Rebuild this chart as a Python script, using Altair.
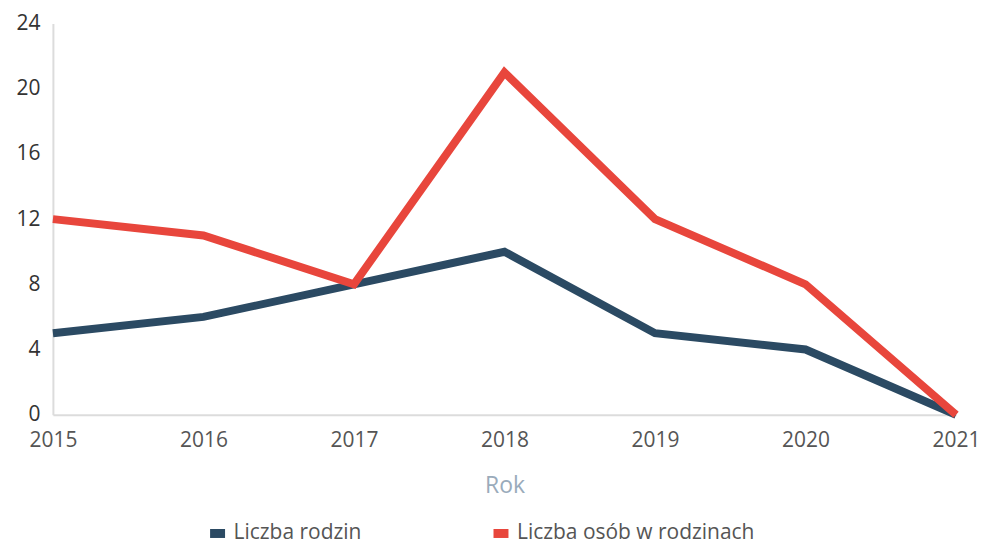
import altair as alt
import pandas as pd

years = [2015, 2016, 2017, 2018, 2019, 2020, 2021]
rodziny = [5, 6, 8, 10, 5, 4, 0]
osoby = [12, 11, 8, 21, 12, 8, 0]
y_ticks = [0, 4, 8, 12, 16, 20, 24]
series_names = ["Liczba rodzin", "Liczba osób w rodzinach"]
colors = ["#2b4a63", "#e8463c"]

df = pd.DataFrame({
    "Rok": years * 2,
    "Wartość": rodziny + osoby,
    "Seria": [series_names[0]] * len(years) + [series_names[1]] * len(years),
})

chart = alt.Chart(df).mark_line(strokeWidth=8, strokeJoin="miter", strokeCap="butt").encode(
    x=alt.X("Rok:Q",
            scale=alt.Scale(domain=[2015, 2021], nice=False, zero=False),
            axis=alt.Axis(values=years, format="d", grid=False, ticks=False,
                          labelFlush=False,
                          domainColor="#dcdcdc", domainWidth=2,
                          labelFontSize=21, labelColor="#555555", labelFont="Open Sans",
                          labelPadding=15, title="Rok", titleFontSize=23,
                          titleColor="#9aabbb", titleFont="Open Sans", titleFontWeight="normal",
                          titlePadding=24)),
    y=alt.Y("Wartość:Q",
            scale=alt.Scale(domain=[0, 24], nice=False),
            axis=alt.Axis(values=y_ticks, grid=False, ticks=False,
                          domainColor="#dcdcdc", domainWidth=2,
                          labelFontSize=21, labelColor="#333333", labelFont="Open Sans",
                          labelPadding=13, title=None)),
    color=alt.Color("Seria:N",
                    scale=alt.Scale(domain=series_names, range=colors),
                    legend=alt.Legend(orient="none", legendX=153, legendY=499,
                                      direction="horizontal", title=None,
                                      symbolType="M-1,0L1,0",
                                      symbolSize=225, symbolStrokeWidth=9,
                                      labelFontSize=21, labelColor="#555555",
                                      labelFont="Open Sans", labelLimit=400,
                                      labelOffset=4, columnPadding=113, padding=0)),
).properties(
    width=905, height=392,
    padding={"left": 7, "top": 4, "right": 0, "bottom": 0},
).configure_view(stroke=None)

chart.save("out.html", embed_options={"renderer": "svg", "actions": False})
